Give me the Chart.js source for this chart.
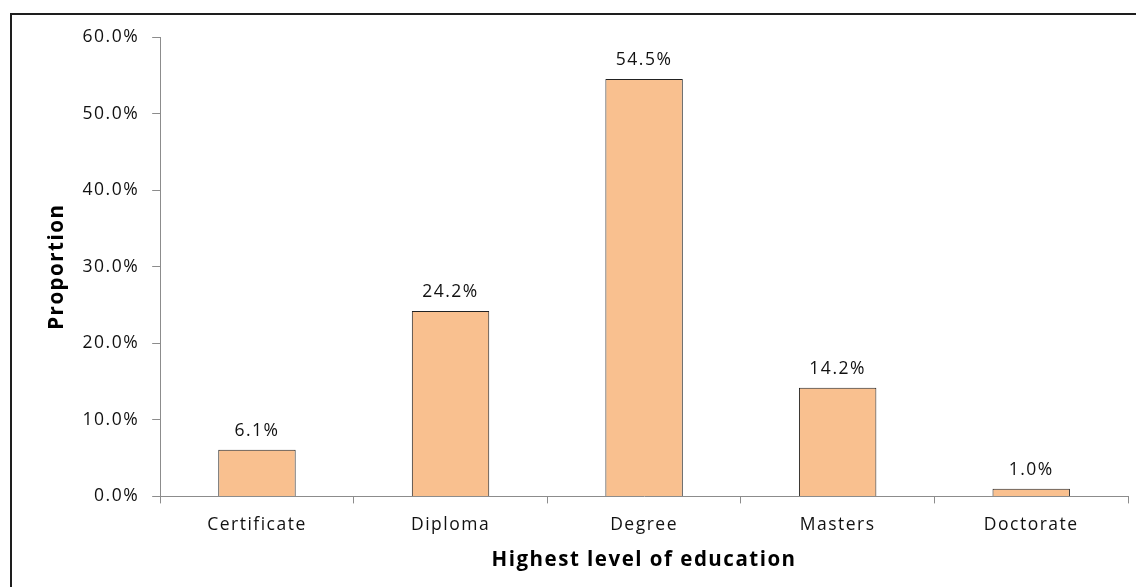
<!DOCTYPE html>
<html>
<head>
<meta charset="utf-8">
<title>Highest level of education</title>
<script src="https://cdn.jsdelivr.net/npm/chart.js@4.4.1/dist/chart.umd.min.js"></script>
<style>
  html, body { margin: 0; padding: 0; background: #fff; overflow: hidden; }
  #wrap { position: relative; width: 1136px; height: 587px; }
  #frame {
    position: absolute; left: 10px; top: 13px; width: 1200px; height: 700px;
    border: 2px solid #1e1e1e; box-sizing: border-box; pointer-events: none;
  }
  canvas { position: absolute; left: 0; top: 0; }
</style>
</head>
<body>
<div id="wrap">
  <canvas id="eduChart" width="1136" height="587"></canvas>
  <div id="frame"></div>
</div>
<script>
// --- data ---
const levels     = ['Certificate', 'Diploma', 'Degree', 'Masters', 'Doctorate'];
const proportion = [6.1, 24.2, 54.5, 14.2, 1.0];
const yMax       = 60;
const yStep      = 10;

const tickFont  = { family: 'Open Sans', size: 17.5 };
const titleFont = { family: 'Open Sans', size: 20.5, weight: 'bold' };
const axisGrey  = '#8c8c8c';
const textCol   = '#111';
const spacing   = '1.5px';

// excel-ish loose letter spacing for every text drawn on the canvas
const looseText = {
  id: 'looseText',
  beforeLayout(chart) { chart.ctx.letterSpacing = spacing; },
  beforeDraw(chart)   { chart.ctx.letterSpacing = spacing; }
};

// simple value labels above each bar
const barLabels = {
  id: 'barLabels',
  afterDatasetsDraw(chart) {
    const { ctx } = chart;
    const meta = chart.getDatasetMeta(0);
    ctx.save();
    ctx.letterSpacing = spacing;
    ctx.font = `${tickFont.size}px "${tickFont.family}"`;
    ctx.fillStyle = textCol;
    ctx.textAlign = 'center';
    ctx.textBaseline = 'middle';
    meta.data.forEach((bar, i) => {
      ctx.fillText(proportion[i].toFixed(1) + '%', bar.x, bar.y - 19);
    });
    ctx.restore();
  }
};

new Chart(document.getElementById('eduChart'), {
  type: 'bar',
  data: {
    labels: levels,
    datasets: [{
      data: proportion,
      backgroundColor: '#f9c08f',
      borderColor: '#222',
      borderWidth: 1,
      barPercentage: 0.4,
      categoryPercentage: 1.0,
    }]
  },
  options: {
    responsive: false,
    animation: false,
    layout: { padding: { left: 45, top: 37, right: 8, bottom: 11 } },
    plugins: { legend: { display: false }, tooltip: { enabled: false } },
    scales: {
      x: {
        offset: true,
        grid: { offset: true, drawOnChartArea: false, tickLength: 7, color: axisGrey },
        border: { color: axisGrey, width: 1 },
        ticks: { font: tickFont, color: textCol, padding: 11 },
        title: { display: true, text: 'Highest level of education', font: titleFont, color: '#000', padding: { top: 1 } }
      },
      y: {
        min: 0, max: yMax,
        grid: { drawOnChartArea: false, tickLength: 8, color: axisGrey },
        border: { color: axisGrey, width: 1 },
        ticks: { stepSize: yStep, font: tickFont, color: textCol, padding: 13,
                 callback: v => v.toFixed(1) + '%' },
        title: { display: true, text: 'Proportion', font: titleFont, color: '#000', padding: 0 }
      }
    }
  },
  plugins: [looseText, barLabels]
});
</script>
</body>
</html>
